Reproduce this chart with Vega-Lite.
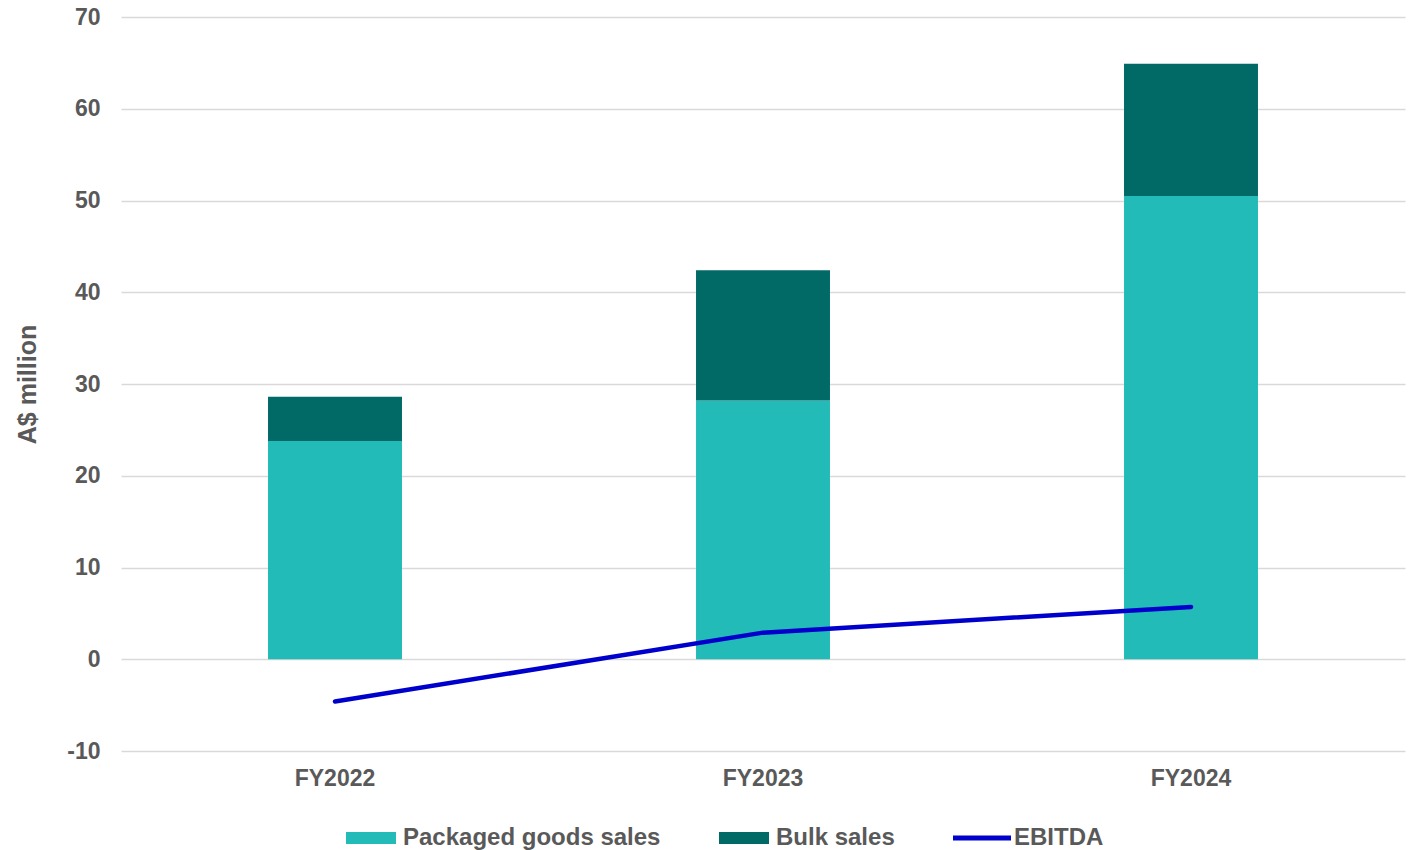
{
  "$schema": "https://vega.github.io/schema/vega-lite/v6.json",
  "width": 1284,
  "height": 734,
  "autosize": {"type": "none"},
  "padding": {"left": 121, "top": 17, "right": 4, "bottom": 99},
  "background": "white",
  "config": {
    "view": {"stroke": null},
    "font": "Liberation Sans",
    "axis": {
      "labelFont": "Liberation Sans",
      "labelFontWeight": "bold",
      "labelColor": "#595959",
      "labelFontSize": 23,
      "titleFont": "Liberation Sans",
      "titleFontWeight": "bold",
      "titleColor": "#595959",
      "domain": false,
      "ticks": false
    }
  },
  "data": {
    "values": [
      {"year": "FY2022", "series": "Packaged goods sales", "value": 23.8},
      {"year": "FY2022", "series": "Bulk sales", "value": 4.8},
      {"year": "FY2023", "series": "Packaged goods sales", "value": 28.2},
      {"year": "FY2023", "series": "Bulk sales", "value": 14.2},
      {"year": "FY2024", "series": "Packaged goods sales", "value": 50.5},
      {"year": "FY2024", "series": "Bulk sales", "value": 14.4},
      {"year": "FY2022", "series": "EBITDA", "value": -4.6},
      {"year": "FY2023", "series": "EBITDA", "value": 2.9},
      {"year": "FY2024", "series": "EBITDA", "value": 5.7}
    ]
  },
  "encoding": {
    "x": {
      "field": "year",
      "type": "nominal",
      "scale": {"paddingInner": 0.687, "paddingOuter": 0.3435},
      "axis": {"title": null, "labelAngle": 0, "labelPadding": 16, "grid": false}
    },
    "y": {
      "field": "value",
      "type": "quantitative",
      "scale": {"domain": [-10, 70], "nice": false, "zero": false},
      "axis": {
        "title": "A$ million",
        "titleFontSize": 25,
        "titlePadding": 26,
        "values": [-10, 0, 10, 20, 30, 40, 50, 60, 70],
        "labelExpr": "replace(datum.label, '−', '-')",
        "labelPadding": 21,
        "grid": true,
        "gridColor": "#d9d9d9",
        "gridWidth": 1.4
      }
    },
    "color": {
      "field": "series",
      "type": "nominal",
      "scale": {
        "domain": ["Packaged goods sales", "Bulk sales", "EBITDA"],
        "range": ["#23bbb7", "#016a67", "#0000cc"]
      },
      "legend": {
        "title": null,
        "orient": "none",
        "direction": "horizontal",
        "legendX": 225,
        "legendY": 796,
        "padding": 0,
        "columnPadding": 58,
        "labelFont": "Liberation Sans",
        "labelFontWeight": "bold",
        "labelFontSize": 24,
        "labelColor": "#595959",
        "labelOffset": 7,
        "labelLimit": 400,
        "symbolSize": 2500,
        "encode": {
          "symbols": {
            "update": {
              "shape": {"signal": "datum.value === 'EBITDA' ? 'M-1.16,-0.1H1.16V0.1H-1.16Z' : 'M-1,-0.24H1V0.24H-1Z'"},
              "fill": {"scale": "color", "field": "value"},
              "stroke": {"value": "transparent"},
              "strokeWidth": {"value": 0},
              "opacity": {"value": 1},
              "fillOpacity": {"value": 1}
            }
          }
        }
      }
    }
  },
  "layer": [
    {
      "transform": [{"filter": "datum.series !== 'EBITDA'"}],
      "mark": {"type": "bar"},
      "encoding": {
        "y": {"field": "value", "type": "quantitative", "stack": "zero"},
        "order": {"field": "series", "sort": "descending"}
      }
    },
    {
      "transform": [{"filter": "datum.series === 'EBITDA'"}],
      "mark": {"type": "line", "strokeWidth": 4.5, "strokeCap": "round", "strokeJoin": "round"},
      "encoding": {}
    }
  ]
}
